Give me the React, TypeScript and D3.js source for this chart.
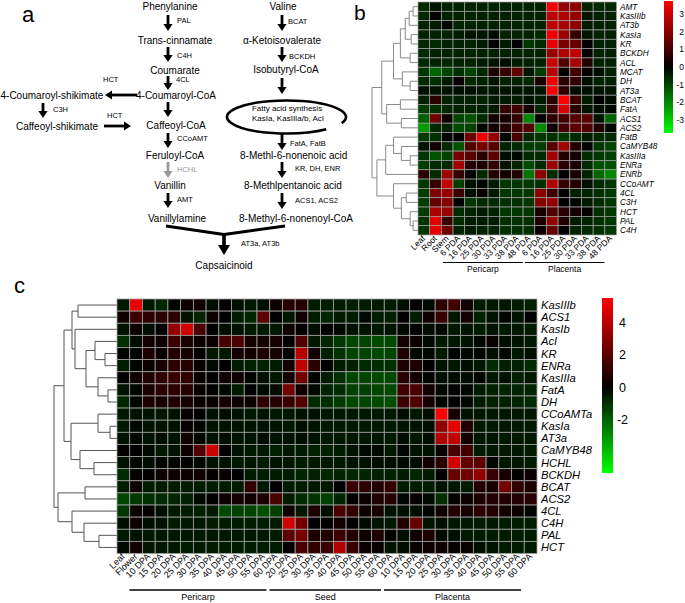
import React from 'react';
import * as d3 from 'd3';

const FONT = "'Liberation Sans', Arial, Helvetica, sans-serif";

// ---------------- Panel b data ----------------
const bGenes = ["AMT","KasIIIb","AT3b","KasIa","KR","BCKDH","ACL","MCAT","DH","AT3a","BCAT","FatA","ACS1","ACS2","FatB","CaMYB48","KasIIIa","ENRa","ENRb","CCoAMT","4CL","C3H","HCT","PAL","C4H"];
const bSamples = ["Leaf","Root","Stem","6 PDA","16 PDA","25 PDA","30 PDA","33 PDA","38 PDA","48 PDA","6 PDA","16 PDA","25 PDA","30 PDA","33 PDA","38 PDA","48 PDA"];
const bGroupNames = ["Pericarp","Placenta"];
const bGroupSpans = [[3,9],[10,16]];
const bLegendTicks = [3,2,1,0,-1,-2,-3];
const bMatrix = [
 [-0.6,-0.3,-0.5,-0.5,-0.5,-0.5,-0.5,-0.5,-0.5,-0.5,-0.5,3.6,2.2,2.1,-0.5,-0.6,-0.6],
 [-0.6,-0.1,-0.5,-0.5,-0.5,-0.5,-0.5,-0.5,-0.5,-0.5,-0.5,2.8,2.6,2.2,-0.3,-0.5,-0.5],
 [-0.5,-0.4,-0.1,-0.5,-0.5,-0.5,-0.5,-0.5,-0.5,-0.5,-0.5,2.8,2.5,2.1,-0.4,-0.5,-0.5],
 [-0.5,-0.5,-0.5,-0.4,-0.3,-0.3,-0.2,-0.5,-0.5,-0.5,-0.6,3.5,2.3,0.8,-0.3,-0.5,-0.5],
 [-0.6,-0.6,-0.5,-0.5,-0.5,-0.4,0.1,-0.4,0.0,-0.8,-0.6,3.4,1.8,1.5,0.1,-0.5,-0.5],
 [-0.6,-0.5,-0.5,-0.5,-0.5,-0.5,-0.5,-0.5,-0.5,-0.5,-0.5,2.2,2.6,2.8,0.0,-0.5,-0.5],
 [-0.6,-0.5,-0.6,-0.5,-0.5,-0.4,-0.3,-0.2,-0.4,-0.5,-0.5,3.0,1.2,2.5,0.5,-0.5,-0.5],
 [-0.8,-1.5,-1.0,-0.7,-1.0,-0.6,0.5,0.8,1.4,-0.3,-0.9,2.7,0.0,1.0,0.1,-0.2,-0.5],
 [-0.6,-0.7,-0.4,0.1,-0.6,-0.5,-0.3,-0.5,-0.5,-0.6,0.4,3.5,0.6,0.8,-0.2,-0.5,-0.5],
 [-0.2,-0.3,-0.3,-0.2,-0.2,-0.3,-0.3,-0.3,-0.3,-0.3,-0.3,3.75,0.7,-0.2,-0.2,-0.3,-0.3],
 [-0.5,0.6,-0.5,-0.5,-0.5,-0.5,-0.4,-0.4,-0.4,-0.3,-0.4,0.6,3.7,0.9,-0.4,0.0,-0.2],
 [-0.9,-0.7,-0.6,-0.5,-0.5,-0.5,-0.4,0.8,0.9,0.3,-0.6,0.9,3.2,0.6,-0.3,-0.2,-0.1],
 [-1.4,1.6,0.2,-1.0,-1.2,-0.6,0.3,0.3,0.8,-2.0,0.0,0.7,1.0,1.3,1.3,-0.3,-1.5],
 [-2.3,-0.6,-0.5,-1.1,-1.0,-0.1,0.3,0.5,1.0,1.2,-2.0,0.2,1.0,1.4,1.2,0.5,-0.1],
 [-0.9,-0.7,0.0,0.0,1.6,3.5,2.2,-0.1,1.0,-0.6,-0.8,-0.7,-0.8,-0.6,-0.4,-0.6,-0.6],
 [-0.3,0.3,-0.6,-1.2,1.2,1.8,1.3,-0.5,-0.6,-0.9,-0.9,1.2,2.4,0.5,-0.1,-0.8,-1.0],
 [-0.8,-1.2,-1.0,1.7,1.3,0.6,1.4,-0.2,-0.1,-0.6,-0.6,2.4,0.5,0.3,-0.6,-0.8,-0.9],
 [-0.9,-0.6,-0.6,2.4,0.5,0.4,0.8,-0.3,-0.5,-1.1,-0.6,2.3,0.6,0.4,-0.6,-1.2,-1.2],
 [0.6,-0.6,2.3,0.8,0.0,-0.6,0.6,0.3,0.5,-1.7,2.0,-0.6,0.0,0.4,-0.5,-1.5,-2.0],
 [-0.8,0.8,2.9,-0.9,-0.2,-0.1,-0.4,-0.8,-0.8,-0.8,-0.7,2.6,0.8,0.5,-0.2,-0.6,-0.8],
 [-0.9,1.9,2.2,0.9,-0.2,0.1,-0.4,-0.8,-0.8,-0.8,2.0,0.9,0.1,-0.5,-0.5,-0.7,-0.8],
 [-0.9,1.5,2.0,0.0,-0.8,-0.6,-0.6,-0.7,-0.7,-0.8,1.9,2.2,0.0,-0.1,-0.4,-0.6,-0.8],
 [-0.9,2.5,2.3,-0.6,-0.5,-0.4,-0.5,-0.8,-0.8,-0.8,0.3,1.2,0.6,0.3,0.1,-0.7,-0.8],
 [-0.8,3.3,0.8,-0.6,-0.4,-0.4,-0.4,-0.7,-0.7,-0.7,0.4,2.2,0.5,-0.4,-0.5,-0.7,-0.8],
 [-0.8,3.4,1.6,-0.5,-0.4,-0.5,-0.5,-0.7,-0.7,-0.7,0.2,1.5,0.0,-0.5,-0.6,-0.7,-0.8],
];
// dendrogram nodes: [left, right, mergeHeight]
const bTree: any = [
  [[[[[[0,1,5],2,9],[3,4,7],13],[5,6,8],18],[7,[8,9,8],16],25],
   [[10,11,18],[12,13,17],32],37],
  [[[14,[15,[16,17,8],17],25],18,33],
   [19,[[20,21,12],[22,[23,24,5],8],17],25],42],
  47];

// ---------------- Panel c data ----------------
const cGenes = ["KasIIIb","ACS1","KasIb","AcI","KR","ENRa","KasIIIa","FatA","DH","CCoAMTa","KasIa","AT3a","CaMYB48","HCHL","BCKDH","BCAT","ACS2","4CL","C4H","PAL","HCT"];
const cSamples = ["Leaf","Flower",
  "10 DPA","15 DPA","20 DPA","25 DPA","30 DPA","35 DPA","40 DPA","45 DPA","50 DPA","55 DPA","60 DPA",
  "20 DPA","25 DPA","30 DPA","35 DPA","40 DPA","45 DPA","50 DPA","55 DPA","60 DPA",
  "10 DPA","15 DPA","20 DPA","25 DPA","30 DPA","35 DPA","40 DPA","45 DPA","50 DPA","55 DPA","60 DPA"];
const cGroupNames = ["Pericarp","Seed","Placenta"];
const cGroupSpans = [[2,12],[13,21],[22,32]];
const cLegendTicks = [4,2,0,-2];
const cMatrix = [
 [-0.5,5.0,-0.5,-0.8,-0.1,0.3,0.3,-0.3,0.0,-0.3,-0.5,-0.3,0.3,0.8,0.8,-0.6,-0.6,-0.6,-0.7,-0.6,-0.6,-0.6,-0.3,0.0,-0.2,1.0,1.4,0.4,-0.6,-0.5,-0.5,-0.6,-0.7],
 [0.3,1.3,1.0,0.9,0.9,-0.4,-0.8,0.3,0.0,-0.6,-0.8,2.0,0.0,-0.5,0.3,-0.6,-0.8,-0.6,-0.6,-0.2,-0.6,-0.7,0.1,-0.6,0.3,1.2,-0.5,0.4,-0.7,-0.4,-0.1,-0.4,0.0],
 [-0.4,0.3,-0.3,0.0,3.2,4.5,1.6,0.0,-0.3,-0.4,-0.5,-0.5,-0.5,0.3,0.0,-0.3,0.0,-0.2,-0.4,-0.4,-0.5,-0.4,-0.2,0.0,-0.3,-0.2,-0.5,-0.4,-0.6,-0.4,-0.5,-0.5,-0.6],
 [-1.0,-0.3,0.4,0.3,1.3,0.6,0.2,0.3,1.5,1.6,0.5,0.4,0.5,0.0,1.8,-0.5,-0.8,-1.2,-1.5,-1.5,-1.6,-1.6,0.4,0.3,-0.2,-0.6,-0.5,-0.4,-0.2,0.2,-0.3,-0.4,-0.5],
 [-0.1,-0.1,0.6,0.2,0.8,0.5,0.1,-0.5,-0.5,0.4,0.4,0.6,0.5,0.1,4.0,0.4,-0.7,-1.1,-1.5,-1.5,-1.6,-1.5,0.6,-0.2,-0.2,-0.6,-0.1,-0.2,-0.2,-0.3,-0.2,-0.5,-0.3],
 [-0.6,-0.1,0.2,0.5,1.0,0.8,0.2,-0.2,0.0,-0.6,-0.7,-0.7,-0.6,0.4,4.2,0.9,0.0,-0.6,-0.7,-0.9,-1.0,-1.0,0.6,0.6,0.0,-0.4,-0.5,-0.3,-0.5,-0.9,-0.7,-0.7,-0.9],
 [0.0,0.3,0.7,1.0,1.2,1.0,0.2,0.0,0.3,0.3,-0.1,-0.3,-0.5,0.4,2.5,-0.1,-0.6,-1.0,-1.5,-1.5,-1.6,-1.6,0.9,0.4,-0.1,-0.3,-0.3,-0.3,-0.2,-0.5,-0.4,-0.7,-0.5],
 [-0.4,-0.1,0.6,0.9,1.0,0.8,0.2,0.0,-0.2,-0.6,0.0,-0.2,-0.3,2.5,0.3,-0.2,-0.8,-1.0,-1.4,-1.4,-1.5,-1.6,1.4,1.6,0.4,-0.2,-0.1,-0.2,-0.6,-0.7,-0.8,-0.8,-0.8],
 [-0.8,-0.1,0.6,0.5,0.7,0.5,0.2,0.2,0.5,0.3,0.2,0.9,0.8,1.2,1.8,-0.9,-1.0,-1.3,-1.6,-1.5,-1.6,-1.7,1.2,1.7,0.5,-0.1,-0.1,-0.2,-0.6,-0.7,-0.7,-0.8,-0.9],
 [-0.5,-0.4,-0.4,-0.5,-0.4,0.2,0.0,-0.4,-0.3,-0.4,-0.5,-0.4,-0.5,-0.5,-0.4,-0.4,-0.5,-0.5,-0.5,-0.5,-0.5,-0.5,-0.3,-0.5,-0.3,5.5,0.6,-0.4,-0.5,-0.5,-0.5,-0.5,-0.5],
 [-0.5,-0.2,-0.4,-0.4,-0.4,0.1,-0.1,-0.4,-0.4,-0.4,-0.4,-0.4,-0.4,-0.5,-0.3,-0.4,-0.5,-0.5,-0.5,-0.5,-0.5,-0.5,-0.4,-0.4,-0.3,3.2,5.0,0.7,-0.5,-0.5,-0.5,-0.5,-0.5],
 [-0.4,-0.2,-0.4,-0.3,-0.4,0.4,-0.2,-0.4,-0.3,-0.4,-0.4,-0.3,-0.4,-0.4,-0.3,-0.4,-0.5,-0.5,-0.5,-0.5,-0.5,-0.5,-0.3,-0.5,-0.3,3.8,4.2,0.4,-0.5,-0.4,-0.5,-0.5,-0.5],
 [0.1,0.0,-0.2,-0.5,-0.4,0.3,1.8,4.5,0.1,-0.4,-0.5,-0.5,-0.7,-0.5,-0.6,-0.7,-0.7,-0.6,-0.4,-0.2,-0.2,-0.5,-0.1,-0.4,-0.4,0.2,1.6,1.4,-0.6,-0.5,-0.5,-0.5,-0.6],
 [-0.4,-0.2,-0.3,-0.1,-0.2,-0.1,-0.2,-0.4,-0.4,-0.5,-0.5,-0.6,-0.4,-0.5,-0.6,-0.5,-0.5,-0.5,-0.4,-0.4,-0.3,-0.3,-0.2,-0.3,0.4,0.9,4.5,2.2,2.0,-0.1,-0.5,-0.5,-0.6],
 [-0.9,0.1,0.1,0.3,0.3,0.3,0.3,0.1,0.2,0.0,-0.6,-0.6,-0.6,-0.6,-0.8,-0.7,-0.8,-0.8,-0.8,-0.8,-0.7,-0.7,-0.6,-0.8,-0.6,0.0,2.2,2.4,3.2,1.2,0.5,0.0,0.3],
 [-0.6,0.3,-0.6,-0.6,-0.6,-0.6,-0.6,-0.6,-0.6,-0.6,1.0,-0.5,0.0,-0.6,-0.6,-0.5,-0.5,0.0,1.2,0.9,0.7,1.1,-0.6,-0.6,-0.6,-0.4,-0.5,-0.6,0.8,0.5,2.5,1.0,0.6],
 [-1.5,-1.2,-1.0,-0.9,-0.8,-0.7,-0.2,0.0,0.3,0.4,0.3,0.6,1.5,-0.6,-0.9,-1.1,-1.4,-0.8,0.0,0.2,0.7,0.8,-0.1,0.2,-0.2,-1.0,0.1,0.3,0.6,0.7,0.8,0.7,0.9],
 [-1.2,0.2,0.1,-0.3,-0.5,-0.6,-0.7,-0.6,-1.6,-1.4,-1.4,-1.7,-1.4,0.3,-0.5,0.6,-0.3,1.6,1.0,0.3,0.5,-0.4,-0.3,-0.3,-0.1,0.3,0.8,0.5,0.9,0.7,0.4,0.3,-0.1],
 [-0.3,0.3,-0.3,-0.4,-0.6,-0.5,-0.5,-0.6,-0.6,-0.6,-0.6,-0.6,-0.6,4.5,2.5,0.0,0.0,0.4,0.0,-0.2,-0.4,-0.5,0.7,2.2,-0.4,-0.3,-0.5,-0.5,-0.6,-0.5,-0.6,-0.6,-0.6],
 [-0.5,-0.4,-0.5,-0.5,-0.5,-0.5,-0.5,-0.5,-0.5,-0.5,-0.5,-0.5,-0.6,2.0,2.5,0.6,0.6,1.3,0.7,0.3,0.6,-0.1,-0.3,0.3,0.6,-0.2,-0.3,-0.5,-0.6,-0.6,-0.6,-0.6,-0.6],
 [-0.2,0.4,-0.5,-0.5,-0.5,-0.6,-0.6,-0.6,-0.6,-0.6,-0.6,-0.6,-0.6,0.1,1.6,1.0,1.2,3.8,1.2,0.2,0.1,-0.4,-0.3,0.2,0.3,0.3,0.1,0.2,-0.3,-0.4,-0.6,-0.6,-0.6],
];
const cTree: any = [
  [[[0,1,39],[2,[[3,[4,5,12],22],[6,[7,8,9],19],31],42],45],
   [[9,[10,11,7],19],[12,[13,14,23],37],46],53],
  [[15,16,32],[17,[18,[19,20,18],33],45],59],
  63];

function dendroPaths(node: any, leafY: (i: number) => number, hx: (h: number) => number, out: string[]): { x: number; y: number } {
  if (typeof node === 'number') return { x: hx(0), y: leafY(node) };
  const a = dendroPaths(node[0], leafY, hx, out);
  const b = dendroPaths(node[1], leafY, hx, out);
  const x = hx(node[2]);
  out.push(`M${a.x},${a.y}H${x}V${b.y}H${b.x}`);
  return { x, y: (a.y + b.y) / 2 };
}

function VArrow({ x, y1, y2, color = '#000', w = 2.8, hw = 4.6, hl = 7 }: any) {
  return (
    <g>
      <line x1={x} y1={y1} x2={x} y2={y2 - hl + 1} stroke={color} strokeWidth={w} />
      <path d={`M${x - hw},${y2 - hl}L${x + hw},${y2 - hl}L${x},${y2}Z`} fill={color} />
    </g>
  );
}
function HArrow({ y, x1, x2, color = '#000', w = 2.8, hw = 4.6, hl = 7 }: any) {
  const dir = x2 > x1 ? 1 : -1;
  return (
    <g>
      <line x1={x1} y1={y} x2={x2 - dir * (hl - 1)} y2={y} stroke={color} strokeWidth={w} />
      <path d={`M${x2 - dir * hl},${y - hw}L${x2 - dir * hl},${y + hw}L${x2},${y}Z`} fill={color} />
    </g>
  );
}

function PanelA() {
  const big = 10;
  const sm = 7.5;
  const T = (p: any) => <text fontSize={big} textAnchor="middle" {...p} />;
  const E = (p: any) => <text fontSize={sm} {...p} />;
  const cx = 286.5, cy = 117, rx = 59.5, ry = 16.5;
  const pt = (deg: number) => [cx + rx * Math.cos(deg * Math.PI / 180), cy + ry * Math.sin(deg * Math.PI / 180)];
  const [sx, sy] = pt(48), [ex, ey] = pt(22);
  return (
    <g fontFamily={FONT} fill="#000">
      <text x={22} y={22} fontSize={22}>a</text>
      <T x={170} y={9.5}>Phenylanine</T>
      <T x={175} y={44}>Trans-cinnamate</T>
      <T x={175} y={73.5}>Coumarate</T>
      <T x={176} y={98.7}>4-Coumaroyl-CoA</T>
      <text fontSize={big} x={0.5} y={98.7}>4-Coumaroyl-shikimate</text>
      <T x={57} y={129.5}>Caffeoyl-shikimate</T>
      <T x={176} y={128.5}>Caffeoyl-CoA</T>
      <T x={175} y={158.5}>Feruloyl-CoA</T>
      <T x={170} y={188.5}>Vanillin</T>
      <T x={177} y={221.5}>Vanillylamine</T>
      <T x={224} y={268.5}>Capsaicinoid</T>
      <T x={283} y={9.5}>Valine</T>
      <T x={282} y={44}>α-Ketoisovalerate</T>
      <T x={286} y={72.7}>Isobutyryl-CoA</T>
      <text fontSize={big} x={240} y={158.5}>8-Methl-6-nonenoic acid</text>
      <text fontSize={big} x={244} y={188.5}>8-Methlpentanoic acid</text>
      <text fontSize={big} x={239} y={221.5}>8-Methyl-6-nonenoyl-CoA</text>

      <E x={177} y={23.4}>PAL</E>
      <E x={177} y={57.7}>C4H</E>
      <E x={176} y={81.7}>4CL</E>
      <E x={103} y={81.7}>HCT</E>
      <E x={53} y={111.7}>C3H</E>
      <E x={107} y={117.7}>HCT</E>
      <E x={177} y={140.7}>CCoAMT</E>
      <E x={177} y={171.7} fill="#999">HCHL</E>
      <E x={177} y={201.7}>AMT</E>
      <E x={241} y={245.7}>AT3a, AT3b</E>
      <E x={288} y={23.7}>BCAT</E>
      <E x={289} y={58.7}>BCKDH</E>
      <E x={290} y={145.7}>FatA, FatB</E>
      <E x={295} y={170.7}>KR, DH, ENR</E>
      <E x={295} y={202.7}>ACS1, ACS2</E>
      <text x={287} y={110.8} fontSize={8} textAnchor="middle">Fatty acid synthesis</text>
      <text x={288} y={120.5} fontSize={8} textAnchor="middle">KasIa, KasIIIa/b, AcI</text>
      <path d={`M${sx},${sy}A${rx},${ry} 0 1 1 ${ex},${ey}`} fill="none" stroke="#000" strokeWidth={2.6} />

      <VArrow x={168} y1={15} y2={31} />
      <VArrow x={168} y1={47} y2={62} />
      <VArrow x={168} y1={76} y2={90} />
      <VArrow x={168} y1={102} y2={117} />
      <VArrow x={168} y1={133} y2={148} />
      <VArrow x={168} y1={162} y2={178} color="#9a9a9a" />
      <VArrow x={168} y1={193} y2={208} />
      <VArrow x={282} y1={15} y2={31} />
      <VArrow x={282} y1={47} y2={62} />
      <VArrow x={282} y1={78} y2={94} />
      <VArrow x={282} y1={134} y2={150} />
      <VArrow x={282} y1={162} y2={178} />
      <VArrow x={282} y1={193} y2={209} />
      <VArrow x={43} y1={103} y2={118} />
      <HArrow y={95} x1={137} x2={105} />
      <HArrow y={126} x1={104} x2={131} />
      <path d="M166,226L224,234.5L285,226" fill="none" stroke="#000" strokeWidth={3} strokeLinejoin="round" />
      <VArrow x={224} y1={234} y2={255} w={3.6} hw={6} hl={10} />
    </g>
  );
}

function PanelB() {
  const x = d3.scaleBand<number>().domain(d3.range(bSamples.length)).range([418, 616.5]);
  const y = d3.scaleBand<number>().domain(d3.range(bGenes.length)).range([2, 235]);
  const color = d3.scaleLinear<string>().domain([-3.75, 0, 3.75]).range(['#00ff00', '#000000', '#ff0000']).clamp(true);
  const hx = d3.scaleLinear().domain([0, 47]).range([418, 372]);
  const paths: string[] = [];
  dendroPaths(bTree, (i) => (y(i) as number) + y.bandwidth() / 2, hx, paths);
  const ly = d3.scaleLinear().domain([-3.75, 3.75]).range([133, 1]);
  return (
    <g fontFamily={FONT}>
      <text x={354} y={20} fontSize={21}>b</text>
      {paths.map((d, i) => <path key={i} d={d} fill="none" stroke="#8a8a8a" strokeWidth={1} />)}
      {bMatrix.map((row, r) => row.map((v, c) => (
        <rect key={`${r}-${c}`} x={x(c)} y={y(r)} width={x.bandwidth()} height={y.bandwidth()}
          fill={color(v)} stroke="#a0a0a0" strokeWidth={0.7} />
      )))}
      {bGenes.map((g, r) => (
        <text key={g} x={620} y={(y(r) as number) + y.bandwidth() / 2 + 3} fontSize={8.2} fontStyle="italic">{g}</text>
      ))}
      {bSamples.map((s, c) => (
        <text key={c} transform={`translate(${(x(c) as number) + x.bandwidth() / 2 + 2},${239}) rotate(-45)`}
          textAnchor="end" fontSize={8.5}>{s}</text>
      ))}
      {bGroupSpans.map(([a, b], i) => {
        const x1 = (x(a) as number) - 10, x2 = (x(b) as number) + x.bandwidth() - 12;
        return (
          <g key={i}>
            <line x1={x1} x2={x2} y1={262.5} y2={262.5} stroke="#000" strokeWidth={1.2} />
            <text x={(x1 + x2) / 2} y={271.5} fontSize={8.5} textAnchor="middle">{bGroupNames[i]}</text>
          </g>
        );
      })}
      <defs>
        <linearGradient id="gradB" x1="0" y1="0" x2="0" y2="1">
          <stop offset="0" stopColor="#ff0000" />
          <stop offset="0.5" stopColor="#000000" />
          <stop offset="1" stopColor="#00ff00" />
        </linearGradient>
      </defs>
      <rect x={664} y={1} width={9} height={132} fill="url(#gradB)" />
      {bLegendTicks.map((t) => (
        <text key={t} x={684} y={ly(t) + 3} fontSize={8.5} textAnchor="end">{t}</text>
      ))}
    </g>
  );
}

function PanelC() {
  const x = d3.scaleBand<number>().domain(d3.range(cSamples.length)).range([117, 537]);
  const y = d3.scaleBand<number>().domain(d3.range(cGenes.length)).range([299, 553.5]);
  const color = d3.scaleLinear<string>().domain([-5.5, 0, 5.5]).range(['#00ff00', '#000000', '#ff0000']).clamp(true);
  const hx = d3.scaleLinear().domain([0, 63]).range([117, 54]);
  const paths: string[] = [];
  dendroPaths(cTree, (i) => (y(i) as number) + y.bandwidth() / 2, hx, paths);
  const ly = d3.scaleLinear().domain([-5.3, 5.5]).range([473, 298]);
  const midOff = (ly(0) - 298) / 175;
  return (
    <g fontFamily={FONT}>
      <text x={14} y={293} fontSize={22}>c</text>
      {paths.map((d, i) => <path key={i} d={d} fill="none" stroke="#555" strokeWidth={1} />)}
      {cMatrix.map((row, r) => row.map((v, c) => (
        <rect key={`${r}-${c}`} x={x(c)} y={y(r)} width={x.bandwidth()} height={y.bandwidth()}
          fill={color(v)} stroke="#a0a0a0" strokeWidth={0.8} />
      )))}
      {cGenes.map((g, r) => (
        <text key={g} x={541} y={(y(r) as number) + y.bandwidth() / 2 + 4} fontSize={11.2} fontStyle="italic">{g}</text>
      ))}
      {cSamples.map((s, c) => (
        <text key={c} transform={`translate(${(x(c) as number) + x.bandwidth() / 2 + 2},${557}) rotate(-45)`}
          textAnchor="end" fontSize={9}>{s}</text>
      ))}
      {cGroupSpans.map(([a, b], i) => {
        const x1 = (x(a) as number) - 13, x2 = (x(b) as number) + x.bandwidth() - 16;
        return (
          <g key={i}>
            <line x1={x1} x2={x2} y1={590} y2={590} stroke="#000" strokeWidth={1.3} />
            <text x={(x1 + x2) / 2} y={600} fontSize={9} textAnchor="middle">{cGroupNames[i]}</text>
          </g>
        );
      })}
      <defs>
        <linearGradient id="gradC" x1="0" y1="0" x2="0" y2="1">
          <stop offset="0" stopColor="#ff0000" />
          <stop offset={String(midOff)} stopColor="#000000" />
          <stop offset="1" stopColor="#00ff00" />
        </linearGradient>
      </defs>
      <rect x={602} y={298} width={11} height={175} fill="url(#gradC)" />
      {cLegendTicks.map((t) => (
        <text key={t} x={622.5} y={ly(t) + 4.5} fontSize={12.5} textAnchor="middle">{t}</text>
      ))}
    </g>
  );
}

export default function App() {
  return (
    <svg width={685} height={603} viewBox="0 0 685 603"
      style={{ position: 'absolute', left: 0, top: 0, background: '#fff' }}>
      <rect x={0} y={0} width={685} height={603} fill="#fff" />
      <PanelA />
      <PanelB />
      <PanelC />
    </svg>
  );
}
